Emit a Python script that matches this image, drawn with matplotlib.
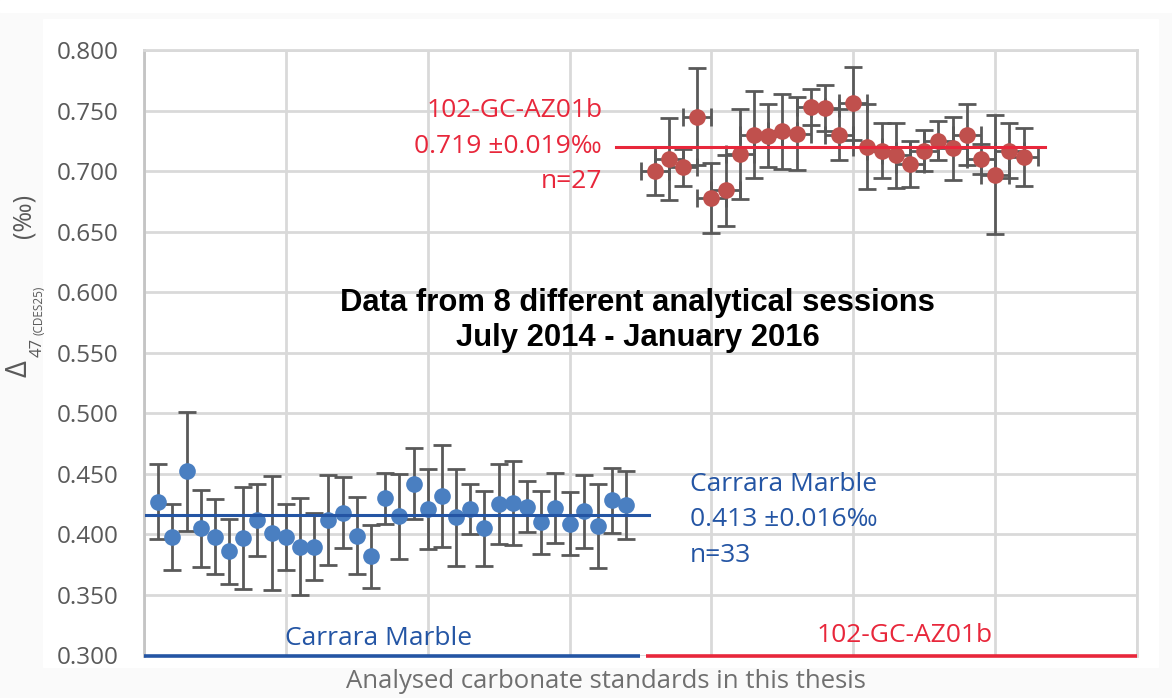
import matplotlib as mpl
mpl.use('agg')
import matplotlib.pyplot as plt
from matplotlib.patches import Rectangle
import numpy as np

# Carrara Marble replicates, in order of analysis
carrara_x = np.arange(1, 35)
carrara_d47 = [0.427, 0.398, 0.452, 0.405, 0.398, 0.386, 0.397, 0.412, 0.401, 0.398,
               0.390, 0.390, 0.412, 0.418, 0.399, 0.382, 0.430, 0.415, 0.442, 0.421,
               0.432, 0.414, 0.421, 0.405, 0.425, 0.426, 0.423, 0.410, 0.422, 0.409,
               0.419, 0.407, 0.428, 0.424]
carrara_err = [0.031, 0.027, 0.049, 0.032, 0.031, 0.027, 0.042, 0.030, 0.047, 0.027,
               0.040, 0.028, 0.037, 0.029, 0.032, 0.026, 0.021, 0.035, 0.029, 0.033,
               0.042, 0.040, 0.021, 0.031, 0.033, 0.035, 0.021, 0.026, 0.029, 0.026,
               0.030, 0.035, 0.027, 0.028]
carrara_line = 0.416
carrara_line_span = [0.15, 35.6]

# 102-GC-AZ01b replicates
az_x = np.arange(36, 63)
az_d47 = [0.700, 0.710, 0.703, 0.745, 0.678, 0.684, 0.714, 0.730, 0.729, 0.733,
          0.731, 0.753, 0.752, 0.730, 0.756, 0.720, 0.717, 0.713, 0.706, 0.717,
          0.725, 0.719, 0.730, 0.710, 0.697, 0.717, 0.712]
az_err = [0.020, 0.034, 0.015, 0.040, 0.029, 0.029, 0.037, 0.036, 0.026, 0.031,
          0.030, 0.015, 0.019, 0.021, 0.030, 0.035, 0.023, 0.027, 0.019, 0.017,
          0.016, 0.026, 0.025, 0.012, 0.049, 0.023, 0.024]
az_xerr = 1.0
az_line = 0.720
az_line_span = [33.3, 63.5]

y_ticks = np.arange(0.300, 0.8001, 0.050)
x_grid = np.arange(0, 71, 10)
group_names = ['Carrara Marble', '102-GC-AZ01b']
group_spans = [(0, 34.95), (35.4, 70)]
group_label_x = [16.5, 53.6]

BLUE_PT = '#4a7fc1'
RED_PT = '#c0504d'
BLUE = '#2455a4'
RED = '#e8273b'
ERR = '#595959'
GRID = '#d9d9d9'
FONT = ['Open Sans', 'DejaVu Sans']

W, H = 1172, 698
fig = plt.figure(figsize=(W / 100, H / 100), dpi=100, facecolor='#fafafa')
fig.patches.append(Rectangle((43 / W, 1 - 667 / H), (1158 - 43) / W, (667 - 19) / H,
                             transform=fig.transFigure, color='white', zorder=-10))
fig.patches.append(Rectangle((0, 1 - 12 / H), 1, 12 / H,
                             transform=fig.transFigure, color='white', zorder=-10))

ax = fig.add_axes([144 / W, 1 - 655.5 / H, (1137 - 144) / W, (655.5 - 50) / H])
ax.set_zorder(1)
ax.set_xlim(0, 70)
ax.set_ylim(0.3, 0.8)

ax.errorbar(carrara_x, carrara_d47, yerr=carrara_err, fmt='none',
            ecolor=ERR, elinewidth=2, capsize=6.5, capthick=2, zorder=3)
ax.plot(carrara_x, carrara_d47, 'o', color=BLUE_PT, markersize=12,
        markeredgewidth=0, zorder=3.5)
ax.errorbar(az_x, az_d47, yerr=az_err, xerr=az_xerr, fmt='none',
            ecolor=ERR, elinewidth=2, capsize=6.5, capthick=2, zorder=3)
ax.plot(az_x, az_d47, 'o', color=RED_PT, markersize=12,
        markeredgewidth=0, zorder=3.5)

ax.plot(carrara_line_span, [carrara_line] * 2, color=BLUE, lw=2.2, zorder=4)
ax.plot(az_line_span, [az_line] * 2, color=RED, lw=2.2, zorder=4)

# group brackets along the bottom
for (x0, x1), name, lx, c, ly in zip(group_spans, group_names, group_label_x,
                                      [BLUE, RED], [0.3087, 0.311]):
    ax.plot([x0, x1], [0.3, 0.3], color=c, lw=2.6, clip_on=False, zorder=5,
            solid_capstyle='butt')
    ax.text(lx, ly, name, color=c, ha='center', va='baseline', fontsize=19,
            family=FONT)

ax.text(32.3, 0.686, '102-GC-AZ01b\n0.719 \u00b10.019\u2030\nn=27', color=RED,
        ha='right', va='baseline', fontsize=19, family=FONT, linespacing=1.55)
ax.text(38.5, 0.3775, 'Carrara Marble\n0.413 \u00b10.016\u2030\nn=33', color=BLUE,
        ha='left', va='baseline', fontsize=19, family=FONT, linespacing=1.55)

ax.text(0.497, 0.553, 'Data from 8 different analytical sessions\nJuly 2014 - January 2016',
        transform=ax.transAxes, ha='center', va='center', fontsize=22.3,
        fontweight='bold', family=['Liberation Sans', 'DejaVu Sans'],
        color='black', linespacing=1.2)

ax.set_xticks(x_grid)
ax.set_yticks(y_ticks)
ax.set_xticklabels([])
ax.set_yticklabels(['%.3f' % v for v in y_ticks], family=FONT, fontsize=17.5,
                   color='#595959')
ax.tick_params(length=0)
ax.tick_params(axis='y', pad=18.5)
ax.grid(True, color=GRID, lw=2)
ax.set_axisbelow(True)
for s in ['top', 'right', 'left']:
    ax.spines[s].set_color(GRID)
    ax.spines[s].set_linewidth(2)
ax.spines['left'].set_color('#c4c4c4')
ax.spines['bottom'].set_visible(False)

# y label built from pieces: Delta, subscripts, unit
ylab = [('\u0394', 21, 19, 369), ('47', 12, 38, 347),
        ('(CDES25)', 8.5, 39, 310), ('(\u2030)', 18, 24, 216)]
for s, fs, px, py in ylab:
    fig.text(px / W, 1 - py / H, s, rotation=90, ha='center', va='center',
             fontsize=fs, color='#595959', family=FONT)
fig.text(606 / W, 1 - 681 / H, 'Analysed carbonate standards in this thesis',
         ha='center', va='center', fontsize=18.5, color='#6f6f6f', family=FONT)

fig.savefig('out.png', dpi=100, facecolor=fig.get_facecolor())
